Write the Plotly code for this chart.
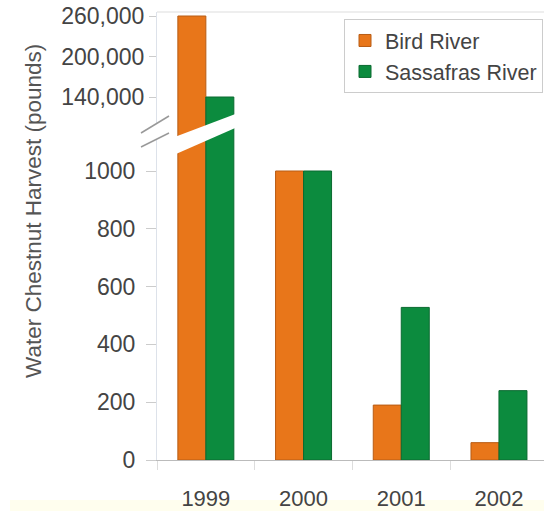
import plotly.graph_objects as go

years = ["1999", "2000", "2001", "2002"]
bird_river = [260000, 1000, 190, 60]
sassafras_river = [140000, 1000, 528, 240]
low_ticks = [0, 200, 400, 600, 800, 1000]
high_ticks = [140000, 200000, 260000]

ORANGE = "#E8761A"
ORANGE_EDGE = "#B85C14"
GREEN = "#0C8B3E"
GREEN_EDGE = "#0A6A30"
FONT = "Liberation Sans, Arial, sans-serif"

W, H = 544, 511
ML, MR, MT, MB = 157, 0, 12, 51
PW = W - ML - MR
PH = H - MT - MB
SPLIT_PY = 128
LOW_PX_PER_1000 = 289
HIGH_UNITS_PER_PX = 1481


def px(x):
    return (x - ML) / PW


def py(y):
    return (H - MB - y) / PH


split = py(SPLIT_PY)

fig = go.Figure()
for axis, show in (("y", True), ("y2", False)):
    fig.add_trace(go.Bar(
        x=years, y=bird_river, name="Bird River", yaxis=axis, showlegend=show,
        offsetgroup="bird", legendgroup="bird",
        marker=dict(color=ORANGE, line=dict(color=ORANGE_EDGE, width=1)),
    ))
    fig.add_trace(go.Bar(
        x=years, y=sassafras_river, name="Sassafras River", yaxis=axis, showlegend=show,
        offsetgroup="sass", legendgroup="sass",
        marker=dict(color=GREEN, line=dict(color=GREEN_EDGE, width=1)),
    ))

axis_common = dict(
    showgrid=False, zeroline=False, showline=True, linecolor="#dde2ea", linewidth=1,
    ticks="outside", tickcolor="#cccccc", tickwidth=1,
    tickfont=dict(family=FONT, size=23, color="#444444"),
)

low_top = (H - MB - SPLIT_PY) / LOW_PX_PER_1000 * 1000
high_bottom = 140000 - (SPLIT_PY - 97) * HIGH_UNITS_PER_PX
high_top = 260000 + (16 - MT) * HIGH_UNITS_PER_PX

fig.update_layout(
    width=W, height=H,
    margin=dict(l=ML, r=MR, t=MT, b=MB),
    paper_bgcolor="white", plot_bgcolor="white",
    barmode="group", bargap=0.427, bargroupgap=0,
    xaxis=dict(
        showgrid=False, zeroline=False, showline=True, linecolor="#bbbbbb",
        ticks="outside", tickson="boundaries", ticklen=9, tickcolor="#dddddd",
        tickfont=dict(family=FONT, size=22, color="#444444"), ticklabelstandoff=19,
        anchor="y", range=[-0.5, 3.461],
    ),
    yaxis=dict(domain=[0, split], range=[0, low_top], ticklen=10, ticklabelstandoff=6,
               tickvals=low_ticks, tickformat="d", **axis_common),
    yaxis2=dict(domain=[split, 1], range=[high_bottom, high_top], ticklen=7,
                ticklabelstandoff=0, tickvals=high_ticks,
                tickformat=",", anchor="x", **axis_common),
    legend=dict(
        x=px(344), y=py(19), xanchor="left", yanchor="top",
        bordercolor="#cccccc", borderwidth=1, bgcolor="white",
        font=dict(family=FONT, size=21.5, color="#444444"),
        tracegroupgap=0, itemwidth=30,
    ),
    annotations=[dict(
        text="Water Chestnut Harvest (pounds)", textangle=-90,
        xref="paper", yref="paper", x=px(33), y=py(211),
        xanchor="center", yanchor="middle", showarrow=False,
        font=dict(family=FONT, size=22.5, color="#555555"),
    )],
)

shapes = []
# pale bottom strip
shapes.append(dict(type="rect", xref="paper", yref="paper", layer="below",
                   x0=px(10), x1=px(W), y0=py(500), y1=py(H),
                   fillcolor="#FFFEEE", line=dict(width=0)))
# top frame line
shapes.append(dict(type="line", xref="paper", yref="paper",
                   x0=px(157), x1=px(W), y0=py(MT), y1=py(MT),
                   line=dict(color="#dddddd", width=1)))


def poly(points):
    return "M " + " L ".join(f"{px(a)},{py(b)}" for a, b in points) + " Z"


# white band across the 1999 bars
shapes.append(dict(type="path", xref="paper", yref="paper", layer="above",
                   path=poly([(176, 136.5), (242, 111.5), (242, 125), (176, 154)]),
                   fillcolor="white", line=dict(width=0)))
# white gap on the axis
shapes.append(dict(type="path", xref="paper", yref="paper", layer="above",
                   path=poly([(141, 133), (169, 116), (169, 133), (141, 147)]),
                   fillcolor="white", line=dict(width=0)))
# break marks
shapes.append(dict(type="line", xref="paper", yref="paper",
                   x0=px(141), y0=py(133), x1=px(169), y1=py(116),
                   line=dict(color="#999999", width=1.5)))
shapes.append(dict(type="line", xref="paper", yref="paper",
                   x0=px(141), y0=py(147), x1=px(169), y1=py(133),
                   line=dict(color="#999999", width=1.5)))
fig.update_layout(shapes=shapes)

fig.write_html("out.html")
